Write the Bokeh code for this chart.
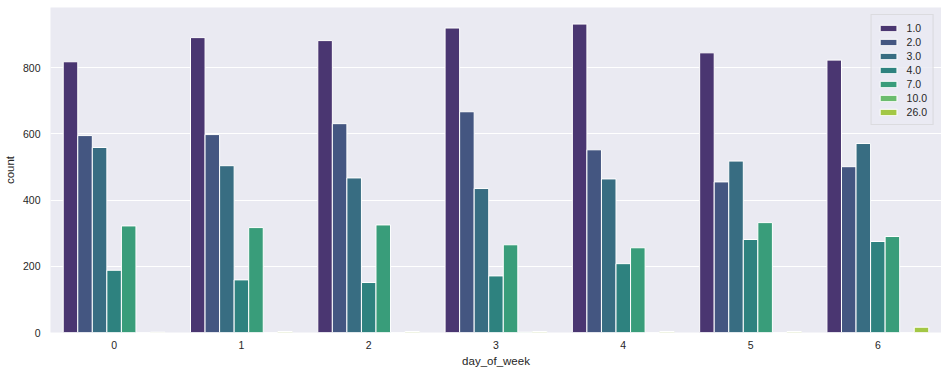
import colorsys
from bokeh.plotting import figure
from bokeh.models import Range1d, FactorRange, FixedTicker, Legend, LegendItem
from bokeh.transform import dodge
from bokeh.palettes import Viridis256
from bokeh.embed import file_html
from bokeh.resources import INLINE

# ---- data ----
days = ["0", "1", "2", "3", "4", "5", "6"]
hue_labels = ["1.0", "2.0", "3.0", "4.0", "7.0", "10.0", "26.0"]
count_1 = [818, 891, 882, 920, 932, 845, 823]
count_2 = [595, 598, 631, 667, 552, 455, 501]
count_3 = [559, 504, 467, 435, 464, 518, 571]
count_4 = [188, 159, 151, 171, 208, 281, 275]
count_7 = [322, 317, 325, 265, 256, 332, 290]
count_10 = [0, 0, 0, 1, 0, 0, 0]
count_26 = [1, 3, 3, 3, 3, 3, 16]
y_ticks = [0, 200, 400, 600, 800]

series = [count_1, count_2, count_3, count_4, count_7, count_10, count_26]

# seaborn-like viridis palette (7 colours, desaturated 0.75)
def desat(hexcol, prop=0.75):
    h = hexcol.lstrip("#")
    r, g, b = (int(h[i:i + 2], 16) / 255 for i in (0, 2, 4))
    hh, ll, ss = colorsys.rgb_to_hls(r, g, b)
    r, g, b = colorsys.hls_to_rgb(hh, ll, ss * prop)
    return "#%02x%02x%02x" % (round(r * 255), round(g * 255), round(b * 255))

n = len(hue_labels)
colors = [desat(Viridis256[min(255, int((i + 1) / (n + 1) * 256))]) for i in range(n)]

TEXT = "#262626"
FONT = "Liberation Sans"

p = figure(
    width=941, height=373,
    x_range=FactorRange(*days),
    y_range=Range1d(0, 982),
    output_backend="svg", toolbar_location=None,
    min_border_left=48, min_border_right=0, min_border_top=7, min_border_bottom=41,
)
p.background_fill_color = "#EAEAF2"
p.border_fill_color = "white"
p.outline_line_color = None

data = {"day": days}
for lab, vals in zip(hue_labels, series):
    data["c" + lab] = vals

bw = 0.8 / n
items = []
for i, lab in enumerate(hue_labels):
    off = (i - (n - 1) / 2) * bw
    r = p.vbar(x=dodge("day", off, range=p.x_range), top="c" + lab, width=bw,
               source=data, fill_color=colors[i], line_color="white", line_width=1)
    items.append(LegendItem(label=lab, renderers=[r]))

legend = Legend(items=items, location="top_right")
legend.margin = 7
legend.padding = 6
legend.spacing = 1
legend.label_text_font = FONT
legend.label_text_font_size = "10.5px"
legend.label_text_color = TEXT
legend.label_height = 13
legend.glyph_height = 8
legend.glyph_width = 21
legend.label_standoff = 8
legend.background_fill_color = "#EAEAF2"
legend.background_fill_alpha = 0.8
legend.border_line_color = "#cccccc"
legend.border_line_width = 1
p.add_layout(legend)

p.xgrid.grid_line_color = None
p.ygrid.grid_line_color = "white"
p.ygrid.grid_line_width = 1
p.yaxis.ticker = FixedTicker(ticks=y_ticks)

for ax in (p.xaxis[0], p.yaxis[0]):
    ax.axis_line_color = None
    ax.major_tick_line_color = None
    ax.minor_tick_line_color = None
    ax.major_tick_out = 0
    ax.major_tick_in = 0
    ax.major_label_text_font = FONT
    ax.major_label_text_font_size = "10.5px"
    ax.major_label_text_color = TEXT
    ax.axis_label_text_font = FONT
    ax.axis_label_text_font_size = "11.5px"
    ax.axis_label_text_font_style = "normal"
    ax.axis_label_text_color = TEXT

p.xaxis.axis_label = "day_of_week"
p.yaxis.axis_label = "count"
p.xaxis.major_label_standoff = 8
p.xaxis.axis_label_standoff = 3
p.yaxis.major_label_standoff = 10
p.yaxis.axis_label_standoff = 4
p.xaxis.group_text_font_size = "0px"

open("out.html", "w").write(file_html(p, INLINE))
